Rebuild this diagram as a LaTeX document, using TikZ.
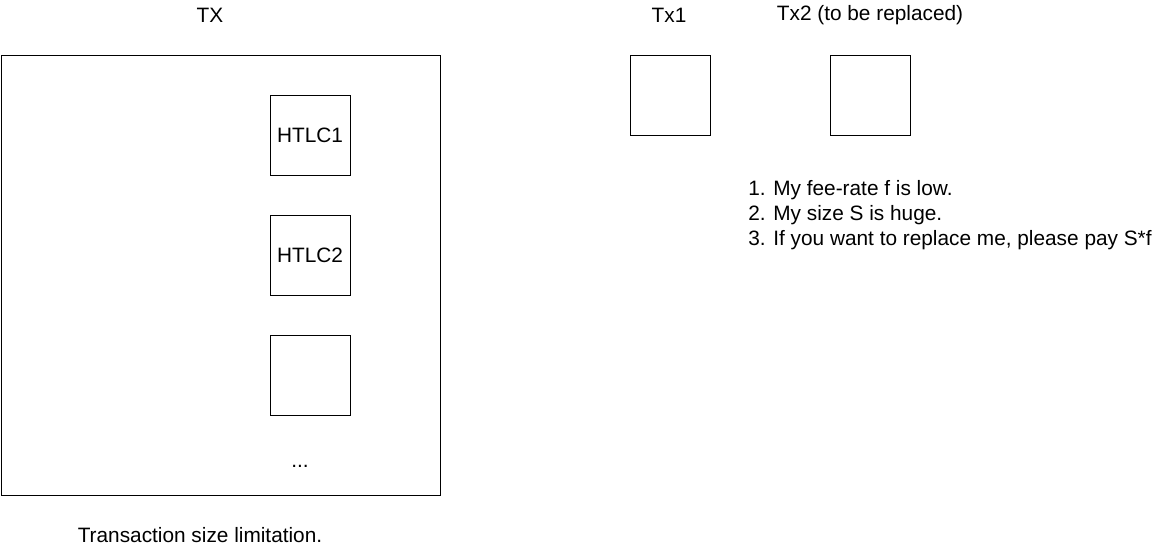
\documentclass[tikz,border=0pt]{standalone}
\usepackage{fontspec}
\setmainfont{Liberation Sans}
\usetikzlibrary{positioning}

\begin{document}
\begin{tikzpicture}[x=0.025cm,y=-0.025cm,
  fnt/.style={font=\fontsize{14.8}{17.7}\selectfont},
  box/.style={draw=black,line width=0.6pt,minimum width=2cm,minimum height=2cm,inner sep=0pt,fnt},
  lbl/.style={fnt,inner sep=0pt}]
\useasboundingbox (0,0) rectangle (1161,552);

% left: the transaction with its HTLC outputs
\node[lbl] (txlbl) at (210,15) {TX};
\draw[line width=0.6pt] (1,55) rectangle (440,495);
\node[box] (h1) at (310,135) {HTLC1};
\node[box] (h2) at (310,255) {HTLC2};
\node[box] (h3) at (310,375) {};
\node[lbl] (dots) at (300,466) {...};
\node[lbl] (cap) at (200,535) {Transaction size limitation.};

% right: two transactions
\node[lbl] (tx1lbl) at (669,15) {Tx1};
\node[box] (tx1) at (670,95) {};
\node[lbl] (tx2lbl) at (870,15) {Tx2 (to be replaced)};
\node[box] (tx2) at (870,95) {};
\node[lbl,anchor=north west,align=left] (note) at (748,180)
  {1. My fee-rate f is low.\\2. My size S is huge.\\3. If you want to replace me, please pay S*f};
\end{tikzpicture}
\end{document}
